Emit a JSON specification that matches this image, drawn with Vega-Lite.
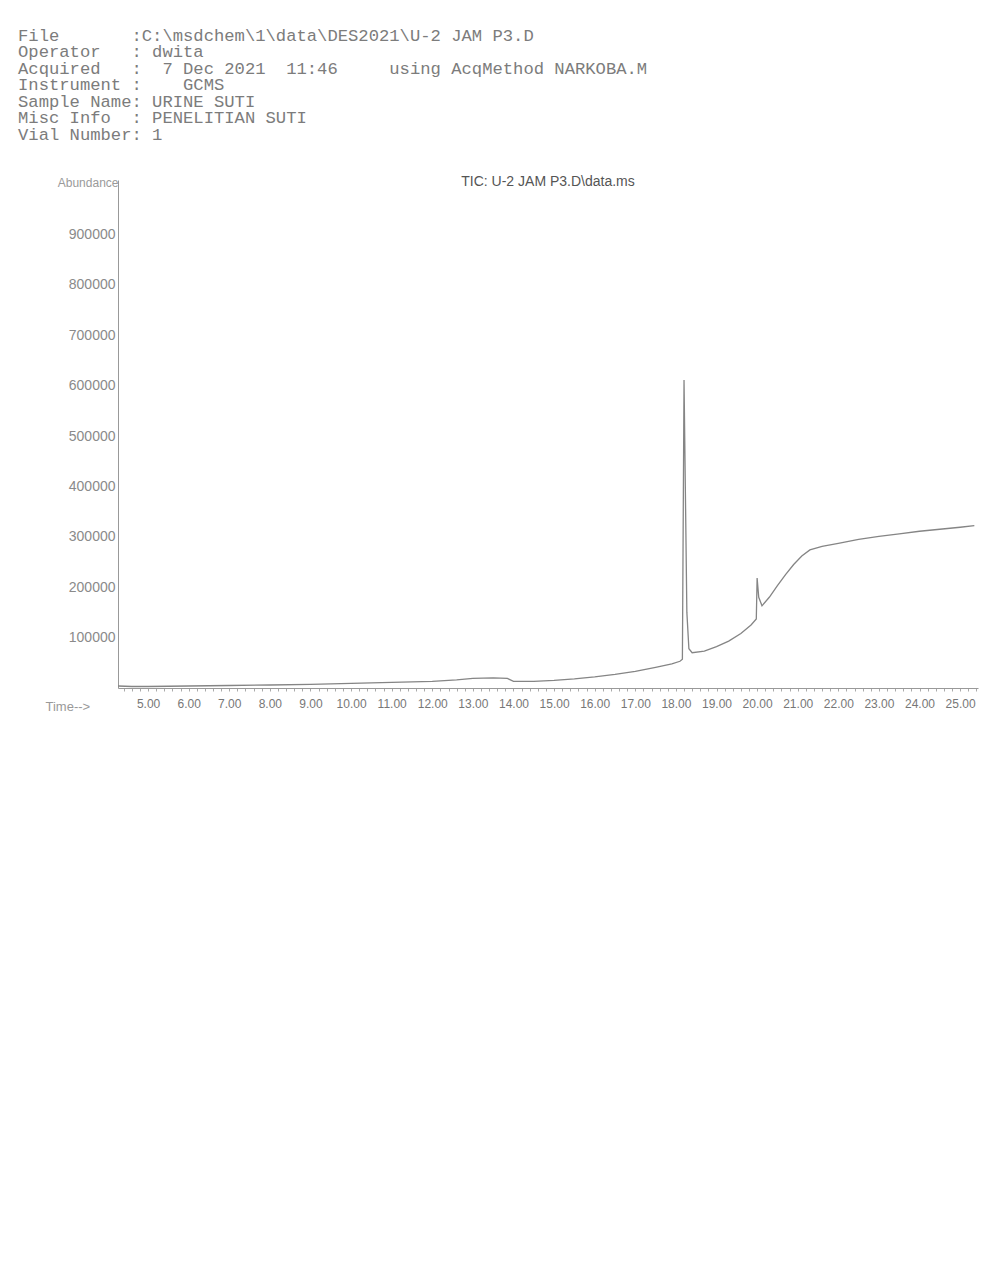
{
  "$schema": "https://vega.github.io/schema/vega-lite/v6.json",
  "autosize": "none",
  "width": 860,
  "height": 508,
  "padding": {"left": 118, "top": 180, "right": 11, "bottom": 584},
  "background": "white",
  "config": {"view": {"stroke": null}, "axis": {"grid": false}},
  "title": {
    "text": [
      "File\u00a0\u00a0\u00a0\u00a0\u00a0\u00a0\u00a0:C:\\msdchem\\1\\data\\DES2021\\U-2\u00a0JAM\u00a0P3.D",
      "Operator\u00a0\u00a0\u00a0:\u00a0dwita",
      "Acquired\u00a0\u00a0\u00a0:\u00a0\u00a07\u00a0Dec\u00a02021\u00a0\u00a011:46\u00a0\u00a0\u00a0\u00a0\u00a0using\u00a0AcqMethod\u00a0NARKOBA.M",
      "Instrument\u00a0:\u00a0\u00a0\u00a0\u00a0GCMS",
      "Sample\u00a0Name:\u00a0URINE\u00a0SUTI",
      "Misc\u00a0Info\u00a0\u00a0:\u00a0PENELITIAN\u00a0SUTI",
      "Vial\u00a0Number:\u00a01"
    ],
    "anchor": "start",
    "frame": "group",
    "orient": "top",
    "dx": -100,
    "offset": 14,
    "baseline": "bottom",
    "font": "Liberation Mono",
    "fontSize": 17.2,
    "fontWeight": "normal",
    "lineHeight": 16.5,
    "color": "#7c7c7c"
  },
  "layer": [
    {
      "data": {
        "values": [
          {"time": 4.26, "abundance": 4000},
          {"time": 4.6, "abundance": 3000},
          {"time": 5.0, "abundance": 3000},
          {"time": 6.0, "abundance": 4000},
          {"time": 7.0, "abundance": 5000},
          {"time": 8.0, "abundance": 6000},
          {"time": 9.0, "abundance": 7000},
          {"time": 10.0, "abundance": 9000},
          {"time": 11.0, "abundance": 11000},
          {"time": 12.0, "abundance": 13000},
          {"time": 12.6, "abundance": 16000},
          {"time": 13.0, "abundance": 19000},
          {"time": 13.5, "abundance": 20000},
          {"time": 13.85, "abundance": 19000},
          {"time": 14.0, "abundance": 13000},
          {"time": 14.5, "abundance": 13000},
          {"time": 15.0, "abundance": 15000},
          {"time": 15.5, "abundance": 18000},
          {"time": 16.0, "abundance": 22000},
          {"time": 16.5, "abundance": 27000},
          {"time": 17.0, "abundance": 33000},
          {"time": 17.5, "abundance": 41000},
          {"time": 17.9, "abundance": 48000},
          {"time": 18.1, "abundance": 53000},
          {"time": 18.16, "abundance": 57000},
          {"time": 18.2, "abundance": 611000},
          {"time": 18.27, "abundance": 150000},
          {"time": 18.32, "abundance": 78000},
          {"time": 18.4, "abundance": 70000},
          {"time": 18.7, "abundance": 73000},
          {"time": 19.0, "abundance": 82000},
          {"time": 19.3, "abundance": 93000},
          {"time": 19.6, "abundance": 108000},
          {"time": 19.85, "abundance": 125000},
          {"time": 19.98, "abundance": 137000},
          {"time": 20.0, "abundance": 218000},
          {"time": 20.04, "abundance": 180000},
          {"time": 20.12, "abundance": 163000},
          {"time": 20.3, "abundance": 180000},
          {"time": 20.5, "abundance": 203000},
          {"time": 20.7, "abundance": 225000},
          {"time": 20.9, "abundance": 245000},
          {"time": 21.1, "abundance": 262000},
          {"time": 21.3, "abundance": 274000},
          {"time": 21.6, "abundance": 281000},
          {"time": 22.0, "abundance": 287000},
          {"time": 22.5, "abundance": 295000},
          {"time": 23.0, "abundance": 301000},
          {"time": 23.5, "abundance": 306000},
          {"time": 24.0, "abundance": 311000},
          {"time": 24.5, "abundance": 315000},
          {"time": 25.0, "abundance": 319000},
          {"time": 25.35, "abundance": 322000}
        ]
      },
      "mark": {"type": "line", "color": "#858585", "strokeWidth": 1.3, "clip": true},
      "encoding": {
        "x": {
          "field": "time",
          "type": "quantitative",
          "scale": {"domain": [4.26, 25.44], "nice": false, "zero": false},
          "axis": {
            "values": [4.4, 4.6, 4.8, 5, 5.2, 5.4, 5.6, 5.8, 6, 6.2, 6.4, 6.6, 6.8, 7, 7.2, 7.4, 7.6, 7.8, 8, 8.2, 8.4, 8.6, 8.8, 9, 9.2, 9.4, 9.6, 9.8, 10, 10.2, 10.4, 10.6, 10.8, 11, 11.2, 11.4, 11.6, 11.8, 12, 12.2, 12.4, 12.6, 12.8, 13, 13.2, 13.4, 13.6, 13.8, 14, 14.2, 14.4, 14.6, 14.8, 15, 15.2, 15.4, 15.6, 15.8, 16, 16.2, 16.4, 16.6, 16.8, 17, 17.2, 17.4, 17.6, 17.8, 18, 18.2, 18.4, 18.6, 18.8, 19, 19.2, 19.4, 19.6, 19.8, 20, 20.2, 20.4, 20.6, 20.8, 21, 21.2, 21.4, 21.6, 21.8, 22, 22.2, 22.4, 22.6, 22.8, 23, 23.2, 23.4, 23.6, 23.8, 24, 24.2, 24.4, 24.6, 24.8, 25, 25.2, 25.4],
            "tickCount": 500,
            "labelExpr": "datum.value % 1 === 0 ? format(datum.value, '.2f') : ''",
            "labelOverlap": false,
            "labelFlush": false,
            "labelFont": "Liberation Sans",
            "labelFontSize": 12,
            "labelColor": "#777777",
            "labelPadding": 7,
            "tickSize": 3,
            "tickColor": "#aaaaaa",
            "domainColor": "#999999",
            "title": "Time-->",
            "titleFont": "Liberation Sans",
            "titleFontSize": 13,
            "titleFontWeight": "normal",
            "titleColor": "#999999",
            "titleAlign": "left",
            "titleAnchor": "start",
            "titleBaseline": "middle",
            "titleX": -73,
            "titleY": 18
          }
        },
        "y": {
          "field": "abundance",
          "type": "quantitative",
          "scale": {"domain": [0, 1008000], "nice": false},
          "axis": {
            "values": [100000, 200000, 300000, 400000, 500000, 600000, 700000, 800000, 900000],
            "format": "d",
            "ticks": false,
            "labelPadding": 3,
            "labelFont": "Liberation Sans",
            "labelFontSize": 14,
            "labelColor": "#8a8a8a",
            "domainColor": "#999999",
            "title": "Abundance",
            "titleAngle": 0,
            "titleAlign": "right",
            "titleBaseline": "middle",
            "titleX": 0,
            "titleY": 2,
            "titleFont": "Liberation Sans",
            "titleFontSize": 12,
            "titleFontWeight": "normal",
            "titleColor": "#9a9a9a"
          }
        }
      }
    },
    {
      "data": {"values": [{"label": "TIC: U-2 JAM P3.D\\data.ms"}]},
      "mark": {"type": "text", "font": "Liberation Sans", "fontSize": 14, "color": "#555555", "baseline": "middle", "align": "center"},
      "encoding": {
        "x": {"datum": 14.85, "type": "quantitative"},
        "y": {"datum": 1004000, "type": "quantitative"},
        "text": {"field": "label"}
      }
    }
  ]
}
